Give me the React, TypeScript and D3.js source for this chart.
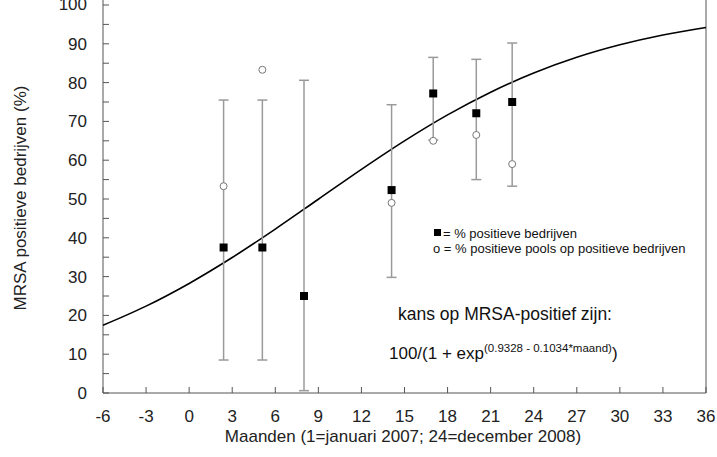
import React from "react";
import * as d3 from "d3";

const months = [2.4, 5.1, 8, 14.1, 17, 20, 22.5];
const pctBedrijven = [37.5, 37.5, 25, 52.3, 77.2, 72.1, 75];
const pctPools = [53.3, 83.3, null, 49, 65, 66.5, 59];
const errLow = [8.5, 8.5, 0.6, 29.8, 65.2, 55, 53.3];
const errHigh = [75.5, 75.5, 80.6, 74.3, 86.5, 86, 90.2];

const curveMonths = [-6, -3, 0, 3, 6, 9, 12, 15, 18, 21, 24, 27, 30, 33, 36];
const curveValues = [17.46, 22.39, 28.24, 34.92, 42.25, 49.94, 57.64, 64.98, 71.68, 77.53, 82.47, 86.52, 89.74, 92.27, 94.21];

const xTicks = [-6, -3, 0, 3, 6, 9, 12, 15, 18, 21, 24, 27, 30, 33, 36];
const yTicks = [0, 10, 20, 30, 40, 50, 60, 70, 80, 90, 100];
const yMinor = [5, 15, 25, 35, 45, 55, 65, 75, 85, 95];

const W = 717, H = 457;
const FONT = "'Liberation Sans', Arial, sans-serif";

export default function App() {
  const x = d3.scaleLinear().domain([-6, 36]).range([103, 706]);
  const y = d3.scaleLinear().domain([0, 100]).range([393, 5]);
  const line = d3.line<number>()
    .x((_, i) => x(curveMonths[i]))
    .y((d) => y(d))
    .curve(d3.curveMonotoneX);
  const axisColor = "#555";
  const barColor = "#9a9a9a";
  return (
    <svg width={W} height={H} style={{ position: "absolute", left: 0, top: 0, background: "#fff" }} fontFamily={FONT}>
      {/* axes */}
      <line x1={x(-6)} x2={x(-6)} y1={0} y2={y(0)} stroke={axisColor} strokeWidth={1} />
      <line x1={x(36)} x2={x(36)} y1={0} y2={y(0)} stroke={axisColor} strokeWidth={1} />
      <line x1={x(-6)} x2={x(36)} y1={y(0)} y2={y(0)} stroke={axisColor} strokeWidth={1} />
      {yTicks.map((t) => (
        <g key={"y" + t}>
          <line x1={x(-6)} x2={x(-6) + 6} y1={y(t)} y2={y(t)} stroke={axisColor} />
          <text x={87} y={t === 100 ? y(t) - 1 : y(t)} dy="0.35em" textAnchor="end" fontSize={17} fill="#222">{t}</text>
        </g>
      ))}
      {yMinor.map((t) => (
        <line key={"ym" + t} x1={x(-6)} x2={x(-6) + 6} y1={y(t)} y2={y(t)} stroke={axisColor} />
      ))}
      {xTicks.map((t) => (
        <g key={"x" + t}>
          <line x1={x(t)} x2={x(t)} y1={y(0)} y2={y(0) - 6} stroke={axisColor} />
          <text x={x(t)} y={416} dy="0.35em" textAnchor="middle" fontSize={17} fill="#222">{t}</text>
        </g>
      ))}
      <text x={403} y={436} dy="0.35em" textAnchor="middle" fontSize={17} fill="#222">Maanden (1=januari 2007; 24=december 2008)</text>
      <text transform={`translate(20,198) rotate(-90)`} dy="0.35em" textAnchor="middle" fontSize={17} fill="#222">MRSA positieve bedrijven (%)</text>

      {/* curve */}
      <path d={line(curveValues) || ""} fill="none" stroke="#000" strokeWidth={1.6} />

      {/* error bars */}
      {months.map((m, i) => (
        <g key={"e" + i} stroke={barColor} strokeWidth={1.5}>
          <line x1={x(m)} x2={x(m)} y1={y(errLow[i])} y2={y(errHigh[i])} />
          <line x1={x(m) - 5} x2={x(m) + 5} y1={y(errLow[i])} y2={y(errLow[i])} />
          <line x1={x(m) - 5} x2={x(m) + 5} y1={y(errHigh[i])} y2={y(errHigh[i])} />
        </g>
      ))}
      {months.map((m, i) =>
        pctPools[i] == null ? null : (
          <circle key={"c" + i} cx={x(m)} cy={y(pctPools[i] as number)} r={3.5} fill="#fff" stroke="#777" strokeWidth={1} />
        )
      )}
      {months.map((m, i) => (
        <rect key={"s" + i} x={x(m) - 4} y={y(pctBedrijven[i]) - 4} width={8} height={8} fill="#000" />
      ))}

      {/* legend */}
      <rect x={434} y={229} width={7} height={7} fill="#000" />
      <text x={443} y={233} dy="0.35em" fontSize={13} fill="#111">= % positieve bedrijven</text>
      <text x={433} y={248} dy="0.35em" fontSize={13} fill="#111">o = % positieve pools op positieve bedrijven</text>

      <text x={398} y={314} dy="0.35em" fontSize={17.5} fill="#111">kans op MRSA-positief zijn:</text>
      <text x={389} y={353} dy="0.35em" fontSize={17} fill="#111">
        100/(1 + exp<tspan fontSize={11.5} dy="-7">(0.9328 - 0.1034*maand)</tspan><tspan dy="7">)</tspan>
      </text>
    </svg>
  );
}
